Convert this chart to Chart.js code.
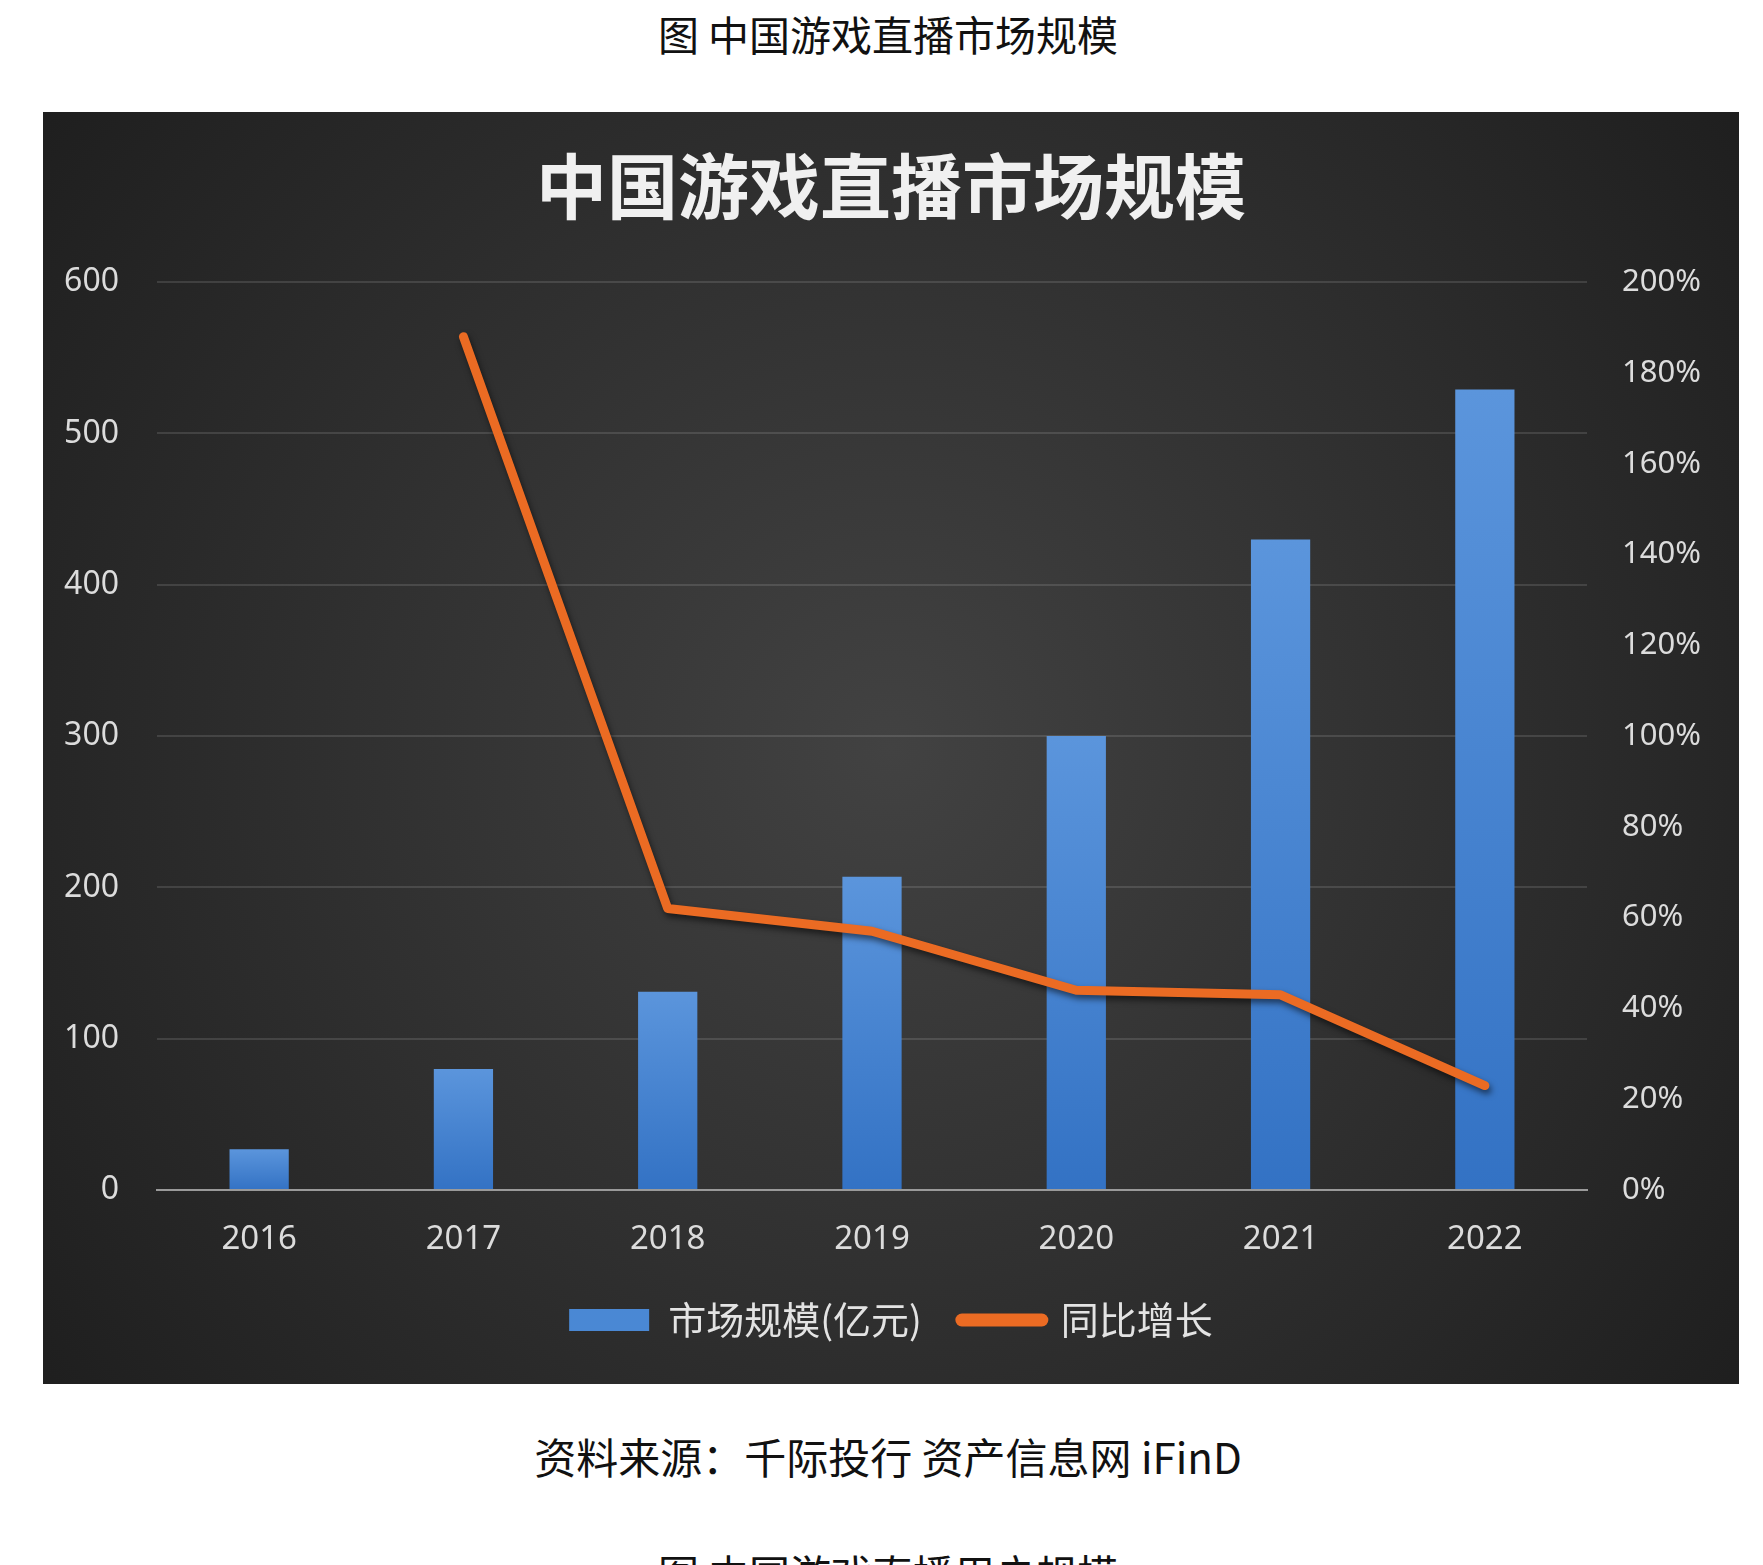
<html>
<head>
<meta charset="utf-8">
<script src="https://cdn.jsdelivr.net/npm/chart.js@4.4.0/dist/chart.umd.min.js"></script>
<style>
  html, body { margin:0; padding:0; background:#fff; }
  body { width:1763px; height:1565px; position:relative; overflow:hidden; font-family:"Noto Sans CJK SC","Noto Sans",sans-serif; }
  .cap { position:absolute; left:0; width:1776px; text-align:center; font-size:41px; color:#111; line-height:1; transform:translateY(-50%); }
  #wrap { position:absolute; left:43px; top:112px; width:1696px; height:1272px; }
</style>
</head>
<body>
<div class="cap" style="top:33px">图 中国游戏直播市场规模</div>
<div id="wrap"><canvas id="canvasDiv" width="1696" height="1272"></canvas></div>
<div class="cap" style="top:1456px; font-size:42px">资料来源：千际投行 资产信息网 iFinD</div>
<div class="cap" style="top:1572px">图 中国游戏直播用户规模</div>

<script>
// data
var years = ['2016','2017','2018','2019','2020','2021','2022'];
var marketSize = [27, 80, 131, 207, 300, 430, 529];      // 亿元
var yoyGrowth  = [null, 188, 62, 57, 44, 43, 23];        // %
var sizeLabel = '市场规模(亿元)';
var growthLabel = '同比增长';

var blue = '#4a88d4';
var orange = '#eb6b23';

// dark panel with a soft radial light in the middle
var panelBg = {
  id: 'panelBg',
  beforeDraw: function(chart) {
    var ctx = chart.ctx, w = chart.width, h = chart.height;
    var g = ctx.createRadialGradient(w*0.5, h*0.5, 0, w*0.5, h*0.5, w*0.62);
    g.addColorStop(0, '#424242');
    g.addColorStop(1, '#1f1f1f');
    ctx.save();
    ctx.fillStyle = g;
    ctx.fillRect(0, 0, w, h);
    ctx.restore();
  }
};

// drop shadow under the growth line
var lineShadow = {
  id: 'lineShadow',
  beforeDatasetDraw: function(chart, args) {
    if (args.index !== 1) return;
    var ctx = chart.ctx;
    ctx.save();
    ctx.shadowColor = 'rgba(0,0,0,0.55)';
    ctx.shadowBlur = 6;
    ctx.shadowOffsetX = 2;
    ctx.shadowOffsetY = 4;
  },
  afterDatasetDraw: function(chart, args) {
    if (args.index === 1) chart.ctx.restore();
  }
};

function barFill(c) {
  var chart = c.chart;
  if (!chart.chartArea || c.type !== 'data') return blue;
  var y = chart.scales.y;
  var top = y.getPixelForValue(c.raw), base = y.getPixelForValue(0);
  var g = chart.ctx.createLinearGradient(0, top, 0, base);
  g.addColorStop(0, '#5b95dc');
  g.addColorStop(1, '#3372c4');
  return g;
}

var tickFont = { family: '"Noto Sans","Noto Sans CJK SC",sans-serif', size: 32 };

function init() {
  var ctx = document.getElementById('canvasDiv');
  new Chart(ctx, {
    data: {
      labels: years,
      datasets: [
        {
          type: 'bar',
          label: sizeLabel,
          data: marketSize,
          backgroundColor: barFill,
          borderWidth: 0,
          categoryPercentage: 1,
          barPercentage: 0.29,
          yAxisID: 'y',
          order: 2
        },
        {
          type: 'line',
          label: growthLabel,
          data: yoyGrowth,
          borderColor: orange,
          borderWidth: 9,
          borderCapStyle: 'round',
          borderJoinStyle: 'round',
          pointRadius: 0,
          tension: 0,
          fill: false,
          yAxisID: 'y1',
          order: 1
        }
      ]
    },
    options: {
      responsive: false,
      animation: false,
      layout: { padding: { left: 0, right: 0, top: 0, bottom: 35 } },
      plugins: {
        tooltip: { enabled: false },
        title: {
          display: true,
          text: '中国游戏直播市场规模',
          color: '#f0f0f0',
          font: { family: '"Noto Sans CJK SC",sans-serif', size: 71, weight: 'bold' },
          padding: { top: 31, bottom: 54 }
        },
        legend: {
          position: 'bottom',
          labels: {
            usePointStyle: true,
            pointStyleWidth: 80,
            boxHeight: 22,
            padding: 40,
            color: '#e3e3e3',
            font: { family: '"Noto Sans CJK SC",sans-serif', size: 38 },
            generateLabels: function(chart) {
              var ds = chart.data.datasets;
              return [
                { text: ds[0].label, fillStyle: blue, strokeStyle: blue, lineWidth: 0,
                  pointStyle: 'rect', fontColor: '#e3e3e3', datasetIndex: 0, hidden: false },
                { text: ds[1].label, fillStyle: 'rgba(0,0,0,0)', strokeStyle: orange, lineWidth: 13,
                  lineCap: 'round', pointStyle: 'line', fontColor: '#e3e3e3', datasetIndex: 1, hidden: false }
              ];
            }
          }
        }
      },
      scales: {
        x: {
          grid: { display: false, drawTicks: false },
          border: { display: true, color: '#9a9a9a', width: 2 },
          ticks: { color: '#dcdcdc', font: { family: tickFont.family, size: 33 }, padding: 30, maxRotation: 0 },
          afterFit: function(s) { s.height = 71; }
        },
        y: {
          position: 'left',
          min: 0, max: 600,
          grid: { color: 'rgba(255,255,255,0.12)', lineWidth: 2, drawTicks: false },
          border: { display: false },
          ticks: { stepSize: 100, color: '#dcdcdc', font: tickFont, padding: 38 },
          afterFit: function(s) { s.width = 114; }
        },
        y1: {
          position: 'right',
          min: 0, max: 200,
          grid: { display: false, drawTicks: false },
          border: { display: false },
          ticks: { stepSize: 20, color: '#dcdcdc', font: { family: tickFont.family, size: 31 }, padding: 35,
                   callback: function(v) { return v + '%'; } },
          afterFit: function(s) { s.width = 152; }
        }
      }
    },
    plugins: [panelBg, lineShadow]
  });
}
init();
</script>
</body>
</html>
